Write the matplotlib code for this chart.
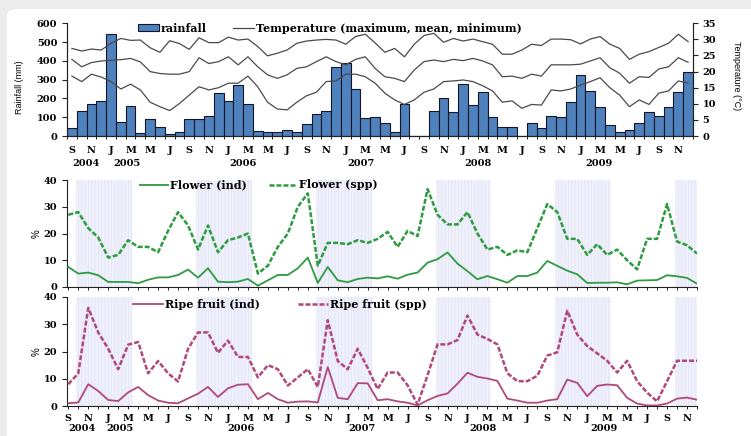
import numpy as np
import matplotlib
matplotlib.use('Agg')
import matplotlib.pyplot as plt
from matplotlib import font_manager
from matplotlib.patches import FancyBboxPatch
from matplotlib.transforms import blended_transform_factory

# monthly series, September 2004 to December 2009
rainfall = [41, 131, 172, 186, 545, 73, 160, 16, 90, 46, 8, 20,
            89, 89, 107, 231, 186, 272, 169, 28, 20, 20, 32, 20,
            64, 119, 131, 369, 387, 250, 98, 99, 67, 20, 169, 0,
            0, 133, 200, 130, 277, 165, 233, 103, 48, 48, 0, 67,
            41, 107, 103, 183, 325, 240, 153, 59, 20, 32, 71, 128,
            108, 154, 234, 343]
t_max = [27.2, 26.4, 27.0, 26.7, 28.8, 30.3, 29.7, 29.8, 27.4, 26.0, 29.6, 28.7,
         26.9, 30.5, 29.0, 29.0, 30.7, 29.8, 30.1, 27.8, 24.9, 25.7, 26.7, 28.8,
         29.5, 29.8, 30.0, 29.8, 28.5, 30.9, 31.6, 28.9, 26.0, 27.2, 24.6, 28.5,
         31.2, 31.9, 29.1, 30.3, 29.5, 30.1, 29.3, 28.5, 25.4, 25.4, 26.7, 28.5,
         28.1, 30.1, 30.1, 29.9, 28.6, 30.1, 30.9, 28.5, 27.2, 23.8, 25.4, 26.2,
         27.5, 28.8, 31.6, 29.3]
t_mean = [23.8, 21.5, 22.8, 23.3, 23.5, 23.7, 24.1, 23.0, 20.0, 19.4, 19.2, 19.2,
          20.0, 24.3, 22.5, 23.1, 24.6, 22.1, 24.6, 21.5, 19.0, 17.9, 19.0, 21.0,
          21.5, 23.1, 24.6, 23.1, 22.1, 23.8, 24.6, 21.0, 18.4, 17.9, 16.9, 20.5,
          23.1, 23.6, 23.1, 23.8, 23.4, 24.1, 23.3, 22.1, 18.4, 18.6, 17.9, 19.2,
          18.6, 22.1, 22.1, 22.1, 22.3, 23.3, 24.3, 21.2, 19.5, 16.4, 18.4, 18.2,
          20.8, 21.5, 24.3, 22.9]
t_min = [18.6, 16.9, 19.2, 18.3, 16.9, 14.6, 16.1, 14.3, 10.5, 9.1, 7.9, 10.1,
         12.7, 15.3, 14.3, 15.0, 16.4, 16.4, 18.6, 15.3, 10.5, 8.4, 8.1, 10.5,
         12.5, 13.6, 16.9, 17.1, 19.2, 19.2, 18.4, 16.4, 13.3, 11.2, 9.8, 11.2,
         13.6, 14.6, 16.9, 17.1, 17.4, 16.9, 15.6, 14.0, 10.5, 10.9, 8.6, 9.8,
         9.6, 14.3, 14.0, 14.6, 15.8, 16.9, 18.1, 15.0, 12.7, 9.1, 11.2, 9.8,
         13.3, 14.0, 17.1, 16.4]
flower_ind = [7.5, 5, 5.4, 4.4, 1.9, 1.9, 1.9, 1.4, 2.7, 3.6, 3.6, 4.5,
              6.5, 3.5, 7, 2, 1.8, 2, 3, 0.5, 2.5, 4.5, 4.5, 7,
              11, 1.5, 7.5, 2.5, 1.8, 3, 3.5, 3.2, 4, 3.1, 4.6, 5.4,
              9.1, 10.4, 12.9, 8.75, 5.9, 2.9, 4.1, 2.9, 1.6, 4.1, 4.1, 5.4,
              9.75, 7.9, 6.1, 4.75, 1.5, 1.6, 1.6, 1.75, 1, 2.4, 2.5, 2.6,
              4.4, 4, 3.4, 1.25]
flower_spp = [27, 28, 22, 18.5, 11, 12, 17.5, 15, 15, 13, 21, 28,
              23, 14, 23, 13, 17.5, 18.5, 20, 5, 8, 15, 20, 30,
              35, 8, 16.5, 16.5, 16, 17.5, 16.5, 18, 20.6, 15, 21, 19,
              36.6, 27, 23.4, 23.4, 28, 20, 14, 15, 12, 13.7, 13, 22,
              31, 28, 18, 18, 12, 16, 12, 14, 10, 6.6, 18, 18,
              31, 17, 15.6, 12.5]
fruit_ind = [1, 1.3, 8, 5.5, 2.2, 1.8, 5, 7, 4, 2, 1.2, 1,
             2.8, 4.5, 7, 3.3, 6.5, 7.8, 8, 2.5, 4.8, 2.5, 1.2, 1.6,
             1.7, 1.3, 14.3, 3, 2.5, 8.4, 8.3, 2.1, 2.5, 1.7, 1.2, 0.2,
             2.1, 3.7, 4.6, 8.2, 12.2, 10.7, 10.1, 9.2, 2.7, 2, 1.2, 1.2,
             2, 2.5, 9.7, 8.5, 3.6, 7.4, 7.9, 7.6, 3, 0.9, 0.2, 0.2,
             0.9, 2.7, 3.1, 2.3]
fruit_spp = [8, 12, 36, 27, 21, 13.5, 22.5, 23.5, 12, 16.5, 12, 9,
             21, 27, 27, 19.5, 24, 18, 18, 10.5, 15, 13.5, 7.5, 10.5,
             13.5, 7, 31.5, 16.5, 13.5, 21, 14, 6.2, 12.3, 12.3, 7.6, 0.5,
             11.3, 22.6, 22.6, 24.2, 33.2, 26.2, 24.6, 22.6, 12, 9.1, 9.1, 11.1,
             18.5, 19.7, 35, 26.2, 22, 19.3, 16.6, 12.3, 16.6, 9.1, 4.9, 1.7,
             9.1, 16.6, 16.6, 16.6]

month_letters = ['S', 'N', 'J', 'M', 'M', 'J']
years = ['2004', '2005', '2006', '2007', '2008', '2009']
year_month_top = [1.4, 5.6, 17.5, 29.5, 41.5, 53.9]
year_month_bottom = [1.4, 5.2, 17.3, 29.4, 41.5, 53.7]
# wet season bands (month index)
season_start = [0.8, 12.8, 24.8, 36.8, 48.8, 60.8]
season_end = [6.4, 18.4, 30.4, 42.4, 54.4, 63.0]

names = {f.name for f in font_manager.fontManager.ttflist}
narrow = 'Liberation Sans Narrow' if 'Liberation Sans Narrow' in names else 'Liberation Sans'
tick_font = dict(family='DejaVu Serif', weight='bold', size=7)
leg_font = font_manager.FontProperties(family='DejaVu Serif', weight='bold', size=8)
axis_col = '#222222'
plt.rcParams['hatch.linewidth'] = 0.6

W, H = 751, 436
fig = plt.figure(figsize=(W / 100, H / 100), dpi=100)
fig.patch.set_facecolor('#ececec')
card = FancyBboxPatch((7 / W, -0.1), 1.2, 1.1 - 9 / H,
                      boxstyle='round,pad=0,rounding_size=0.015',
                      transform=fig.transFigure, facecolor='white',
                      edgecolor='none', zorder=-10)
fig.patches.append(card)


def fig_axes(left, top, right, bottom):
    return fig.add_axes([left / W, 1 - bottom / H, (right - left) / W, (bottom - top) / H])


def style_spines(ax, right=False):
    ax.spines['top'].set_visible(False)
    ax.spines['right'].set_visible(right)
    for s in ax.spines.values():
        s.set_color(axis_col)
        s.set_linewidth(0.8)
    ax.set_facecolor('none')


x = np.arange(len(rainfall))
labels = [month_letters[j % 6] for j in range(len(x[::2]))]

# ---- rainfall and temperature ----
ax1 = fig_axes(67, 23.3, 693, 136)
bars = ax1.bar(x, rainfall, width=1.0, color='#4f81bd', edgecolor='#15152a', linewidth=0.8)
ax1.set_xlim(-0.5, len(x) - 0.5)
ax1.set_ylim(0, 600)
ax1.set_yticks(range(0, 601, 100))
ax1.set_xticks(x[::2])
ax1.set_xticklabels(labels, **tick_font)
ax1.set_xticks(np.arange(-0.5, len(x)), minor=True)
ax1.tick_params(axis='x', which='major', length=0, pad=7.5)
ax1.tick_params(axis='x', which='minor', length=2.2, width=0.7, direction='out', color=axis_col)
ax1.tick_params(axis='y', length=3.5, width=0.8, color=axis_col)
for t in ax1.get_yticklabels():
    t.set(**tick_font)
style_spines(ax1, right=True)

ax2 = ax1.twinx()
ax2.set_ylim(0, 35)
ax2.set_yticks(range(0, 36, 5))
temp_lines = []
for series in (t_max, t_mean, t_min):
    temp_lines += ax2.plot(x, series, color='#4a4a4a', lw=0.9)
ax2.tick_params(axis='y', length=3.5, width=0.8, color=axis_col)
for t in ax2.get_yticklabels():
    t.set(**tick_font)
style_spines(ax2, right=True)
ax2.legend([bars, temp_lines[0]], ['rainfall', 'Temperature (maximum, mean, minimum)'],
           ncol=2, loc='center left', bbox_to_anchor=(0.113, 0.958), frameon=False,
           prop=leg_font, handlelength=1.9, handleheight=0.55, handletextpad=0.15,
           columnspacing=2.4, borderpad=0, borderaxespad=0)

tr = blended_transform_factory(ax1.transData, ax1.transAxes)
for yr, m in zip(years, year_month_top):
    ax1.text(m, -0.24, yr, transform=tr, ha='center', va='center', **tick_font)

fig.text(20 / W, 1 - 87 / H, 'Rainfall (mm)', rotation=90, ha='center', va='center',
         family=narrow, size=6.5)
fig.text(736 / W, 1 - 76 / H, 'Temperature (\u00b0C)', rotation=270, ha='center', va='center',
         family=narrow, size=6.5)


# ---- phenology panels ----
def phenology_panel(top, bottom, ind, spp, color, names_, leg_anchor, hlen, colspace, show_labels):
    ax = fig_axes(67, top, 697, bottom)
    for s0, s1 in zip(season_start, season_end):
        ax.axvspan(s0, s1, facecolor='#f0f1fb', edgecolor='#e0e3f5', hatch='|||||',
                   linewidth=0, zorder=0)
    ax.plot(x, ind, color=color, lw=1.3, label=names_[0], zorder=3)
    ax.plot(x, spp, color=color, lw=1.8, ls=(0, (2.0, 0.8)), label=names_[1], zorder=3)
    ax.set_xlim(-0.13, len(x) - 1)
    ax.set_ylim(0, 40)
    ax.set_yticks(range(0, 41, 10))
    ax.set_xticks(x[::2])
    ax.set_xticks(x[1::2], minor=True)
    if show_labels:
        ax.set_xticklabels(labels, **tick_font)
    else:
        ax.set_xticklabels([])
    ax.tick_params(axis='x', which='both', length=2.2, width=0.7, direction='out',
                   color=axis_col, pad=3.5)
    ax.tick_params(axis='y', length=3.5, width=0.8, color=axis_col)
    for t in ax.get_yticklabels():
        t.set(**tick_font)
    style_spines(ax)
    ax.legend(ncol=2, loc='center left', bbox_to_anchor=leg_anchor, frameon=False,
              prop=leg_font, handlelength=hlen, handletextpad=0.2, columnspacing=colspace,
              borderpad=0, borderaxespad=0)
    fig.text(37 / W, 1 - (top + bottom) / 2 / H, '%', rotation=90, ha='center', va='center',
             family=narrow, size=7)
    return ax


ax_f = phenology_panel(180, 287, flower_ind, flower_spp, '#2e9b40',
                       ['Flower (ind)', 'Flower (spp)'], (73 / 630, 102 / 107), 2.5, 2.0, False)
ax_r = phenology_panel(297, 406, fruit_ind, fruit_spp, '#b0487c',
                       ['Ripe fruit (ind)', 'Ripe fruit (spp)'], (66 / 630, 102 / 109), 2.7, 3.4, True)

tr = blended_transform_factory(ax_r.transData, ax_r.transAxes)
for yr, m in zip(years, year_month_bottom):
    ax_r.text(m, -0.21, yr, transform=tr, ha='center', va='center', **tick_font)

fig.savefig('out.png', dpi=100, facecolor=fig.get_facecolor())
